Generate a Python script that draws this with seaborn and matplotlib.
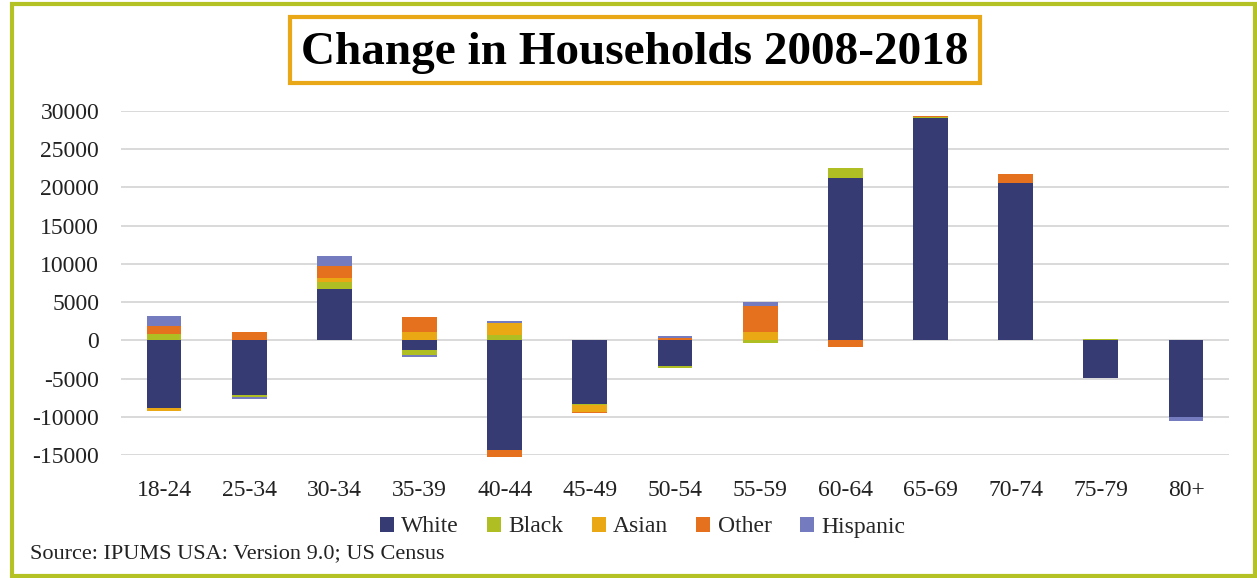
import matplotlib
matplotlib.use("Agg")
import matplotlib.pyplot as plt
import seaborn as sns
import numpy as np
import pandas as pd
from matplotlib.patches import Patch, Rectangle

categories = ['18-24', '25-34', '30-34', '35-39', '40-44', '45-49', '50-54',
              '55-59', '60-64', '65-69', '70-74', '75-79', '80+']
white = [-8870, -7170, 6650, -1300, -14340, -8300, -3390, 0, 21270, 29100, 20620, -4960, -10050]
black = [780, -260, 1040, -650, 650, -150, -260, -400, 1300, 150, 0, 200, 0]
asian = [-390, 0, 520, 1100, 1560, -900, 0, 1040, 0, 0, 0, 0, 0]
other = [1090, 1150, 1560, 1960, -910, -200, 260, 3440, -910, 150, 1170, 0, 0]
hispanic = [1260, -260, 1300, -260, 260, 0, 260, 480, 0, 0, 0, 0, -520]

series_names = ['White', 'Black', 'Asian', 'Other', 'Hispanic']
series_vals = [white, black, asian, other, hispanic]
colors = ['#373B73', '#AFBE22', '#EAA814', '#E5701E', '#747BBF']

yticks = [-15000, -10000, -5000, 0, 5000, 10000, 15000, 20000, 25000, 30000]

sns.set_theme(style="white")
plt.rcParams['font.family'] = ['Liberation Serif', 'DejaVu Serif']

fig = plt.figure(figsize=(12.57, 5.78), dpi=100)
ax = fig.add_axes([0.0966, 0.2128, 0.8808, 0.5952])

arr = np.array(series_vals, dtype=float)
pos = np.clip(arr, 0, None).cumsum(axis=0)
neg = np.clip(arr, None, 0).cumsum(axis=0)

for k in range(len(series_names) - 1, -1, -1):
    for stack in (pos, neg):
        df = pd.DataFrame({'cat': categories, 'val': stack[k]})
        sns.barplot(data=df, x='cat', y='val', color=colors[k], saturation=1,
                    width=0.41, errorbar=None, ax=ax, linewidth=0, clip_on=False)

ax.set_ylim(-15000, 30000)
ax.set_xlim(-0.5, len(categories) - 0.5)
ax.set_yticks(yticks)
ax.set_yticklabels([str(v) for v in yticks])
ax.set_xlabel('')
ax.set_ylabel('')
ax.set_axisbelow(True)
ax.yaxis.grid(True, color='#D9D9D9', linewidth=1.4)
ax.xaxis.grid(False)
for s in ax.spines.values():
    s.set_visible(False)
ax.tick_params(axis='y', length=0, pad=16, labelsize=17, labelcolor='#222222')
ax.tick_params(axis='x', length=0, pad=18, labelsize=17, labelcolor='#222222')

handles = [Patch(facecolor=c, edgecolor='none', label=n) for n, c in zip(series_names, colors)]
fig.legend(handles=handles, loc='center', bbox_to_anchor=(0.511, 1 - 527 / 578), ncol=5,
           frameon=False, fontsize=17, handlelength=0.6, handleheight=0.6,
           handletextpad=0.3, columnspacing=1.2)

fig.text(635 / 1257, 1 - 53 / 578, 'Change in Households 2008-2018', ha='center', va='center',
         fontsize=34, fontweight='bold', color='black')
fig.patches.append(Rectangle((290 / 1257, 1 - 83 / 578), 690 / 1257, 66 / 578,
                             transform=fig.transFigure, fill=False,
                             edgecolor='#E9A817', linewidth=3))
fig.text(30 / 1257, 1 - 554 / 578, 'Source: IPUMS USA: Version 9.0; US Census', ha='left',
         va='center', fontsize=16, color='#222222')
fig.patches.append(Rectangle((12 / 1257, 1 - 576 / 578), 1243 / 1257, 572 / 578,
                             transform=fig.transFigure, fill=False,
                             edgecolor='#B5C226', linewidth=3))

fig.savefig('out.png', dpi=100)
